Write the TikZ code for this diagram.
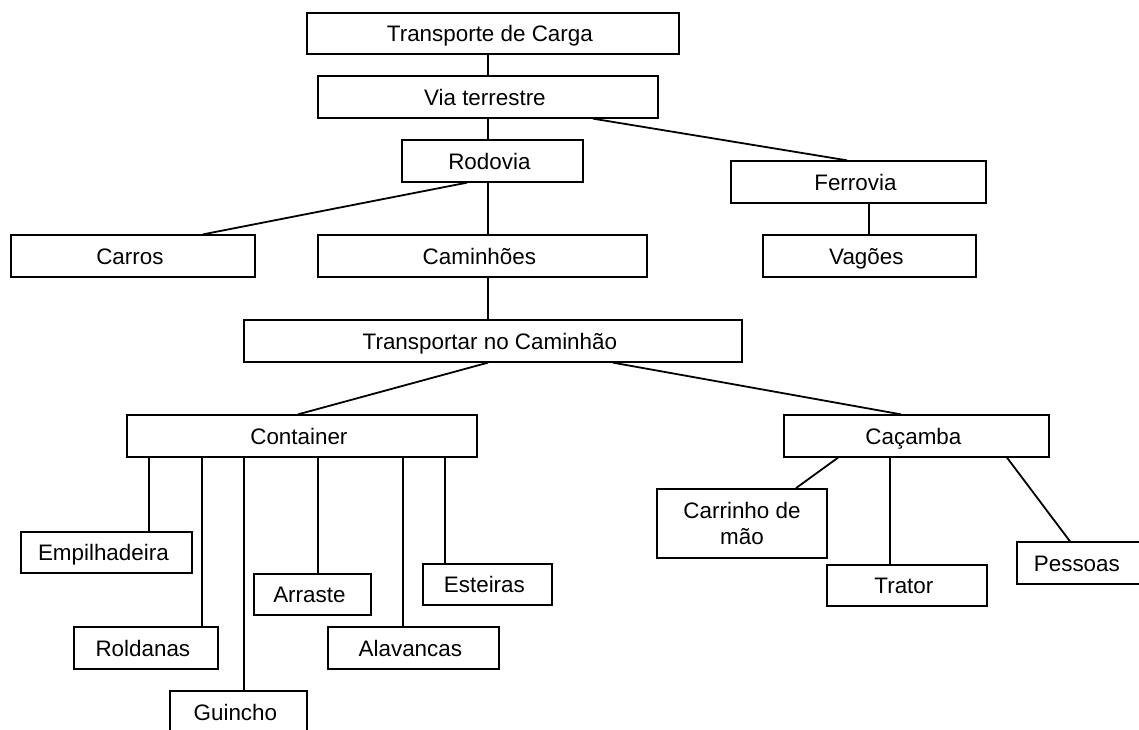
\documentclass[tikz,border=0pt]{standalone}
\usepackage{fontspec}
\setmainfont{Liberation Sans}
\usetikzlibrary{calc}
\tikzstyle{link} = [line width=0.9pt,color=black]
\tikzstyle{block} = [rectangle, minimum height=20.75pt, inner sep=0pt, text height=8pt, text depth=0pt, text centered, draw=black, line width=0.9pt, fill=white, font=\fontsize{11.2pt}{12.6pt}\selectfont]

\begin{document}
\begin{tikzpicture}[x=0.5pt,y=-0.5pt]
    \useasboundingbox (0,0) rectangle (1139,729);

    % nodes
    \node (trans) [block, minimum width=186pt, align=center] at (493,33.5) { Transporte de Carga };
    \node (via) [block, minimum width=170pt, align=center] at (488,97) { Via terrestre };

    % road branch
    \node (rod) [block, minimum width=90.5pt, align=center] at (492.5,161) { Rodovia };
    \node (carros) [block, minimum width=122pt, align=center] at (133,256) { Carros };
    \node (caminhoes) [block, minimum width=164.5pt, align=center] at (482.5,256) { Caminhões };

    % rail branch
    \node (ferro) [block, minimum width=127.5pt, align=center] at (858.5,182) { Ferrovia };
    \node (vagoes) [block, minimum width=106.5pt, align=center] at (869.5,256) { Vagões };

    % truck
    \node (transp) [block, minimum width=249pt, align=center] at (493,341) { Transportar no Caminhão };
    \node (container) [block, minimum width=175pt, align=center] at (302,436) { Container };
    \node (cacamba) [block, minimum width=132.5pt, align=center] at (916.5,436) { Caçamba };

    % container
    \node (empilh) [block, minimum width=85.5pt, align=center] at (106.5,552.5) { Empilhadeira };
    \node (roldanas) [block, minimum width=72pt, align=center] at (146,648) { Roldanas };
    \node (guincho) [block, minimum width=68.5pt, align=center] at (238.5,712) { Guincho };
    \node (arraste) [block, minimum width=58.5pt, align=center] at (312.5,594.5) { Arraste };
    \node (alavancas) [block, minimum width=85.5pt, align=center] at (413.5,648) { Alavancas };
    \node (esteiras) [block, minimum width=64.5pt, align=center] at (487.5,584.5) { Esteiras };

    % cacamba
    \node (carrinho) [block, minimum width=85pt, minimum height=34.5pt, text height={}, text depth={}, align=center] at (742,523.5) { Carrinho de\\mão };
    \node (trator) [block, minimum width=80pt, align=center] at (907,585.5) { Trator };
    \node (pessoas) [block, minimum width=63pt, align=center] at (1080,563) { Pessoas };

    % lines
    \draw [link] (via.north) -- (via.north |- trans.south);
    \draw [link] (via.south) -- (via.south |- rod.north);
    \draw [link] ([xshift=52.5pt]via.south) -- ([xshift=-5.75pt]ferro.north);
    \draw [link] ([xshift=-12.75pt]rod.south) -- ([xshift=35pt]carros.north);
    \draw [link] ([xshift=2.75pt]caminhoes.north) -- ([xshift=2.75pt]caminhoes.north |- rod.south);
    \draw [link] ([xshift=-0.25pt]vagoes.north) -- ([xshift=-0.25pt]vagoes.north |- ferro.south);
    \draw [link] ([xshift=2.75pt]caminhoes.south) -- ([xshift=2.75pt]caminhoes.south |- transp.north);

    % truck
    \draw [link] ([xshift=-2.5pt]transp.south) -- ([xshift=-2pt]container.north);
    \draw [link] ([xshift=60pt]transp.south) -- ([xshift=-7.75pt]cacamba.north);

    % container
    \foreach \kid/\dx in {empilh/21.25pt, roldanas/28pt, guincho/2.75pt, arraste/2.75pt, alavancas/-5.25pt, esteiras/-21.25pt}
        \draw [link] ([xshift=\dx]\kid.north) -- ([xshift=\dx]\kid.north |- container.south);

    % cacamba
    \draw [link] ([xshift=-39.25pt]cacamba.south) -- ([xshift=27pt]carrinho.north);
    \draw [link] ([xshift=-8.5pt]trator.north) -- ([xshift=-8.5pt]trator.north |- cacamba.south);
    \draw [link] ([xshift=45.25pt]cacamba.south) -- ([xshift=-5pt]pessoas.north);
\end{tikzpicture}
\end{document}
